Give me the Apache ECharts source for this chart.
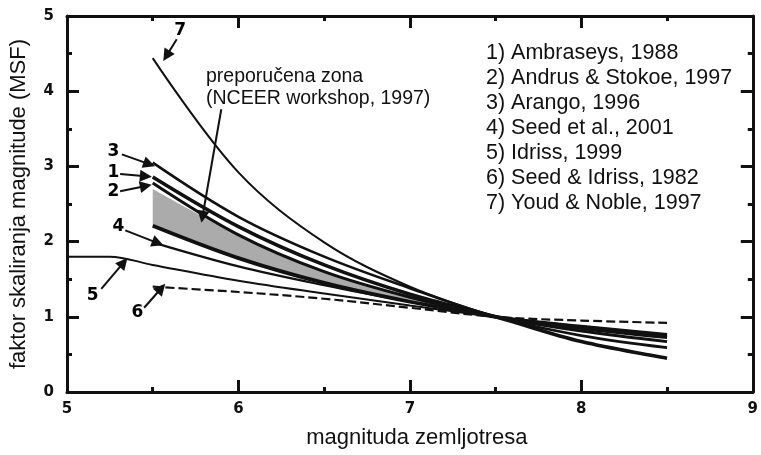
<!DOCTYPE html>
<html>
<head>
<meta charset="utf-8">
<script src="https://cdn.jsdelivr.net/npm/echarts@6/dist/echarts.min.js"></script>
<style>html,body{margin:0;padding:0;background:#fff}#c{width:761px;height:455px}</style>
</head>
<body>
<div id="c"></div>
<script>
// ---- data ----
const mag = [5.5, 6.0, 6.5, 7.0, 7.5, 8.0, 8.5];
const magIdriss = [5.0, 5.25, 5.5, 6.0, 6.5, 7.0, 7.5, 8.0, 8.5];
const magShort = [5.5, 6.0, 6.5, 7.0, 7.5];

const ambraseys    = [2.86, 2.20, 1.69, 1.30, 1.00, 0.67, 0.45];
const andrusStokoe = [2.78, 2.09, 1.60, 1.26, 1.00, 0.81, 0.67];
const arango       = [3.05, 2.33, 1.80, 1.38, 1.00, 0.75, 0.59];
const seedEtAl     = [1.99, 1.67, 1.42, 1.20, 1.00, 0.87, 0.76];
const idriss1999   = [1.80, 1.80, 1.69, 1.48, 1.31, 1.15, 1.00, 0.88, 0.77];
const seedIdriss   = [1.40, 1.33, 1.24, 1.12, 1.00, 0.95, 0.92];
const youdNoble    = [4.44, 2.92, 1.99, 1.40, 1.00];
const zoneLower    = [2.21, 1.78, 1.45, 1.20, 1.00, 0.85, 0.73];
const zoneUpper    = [2.70, 2.09, 1.60, 1.26, 1.00];

const seriesNames = [
  '1) Ambraseys, 1988',
  '2) Andrus & Stokoe, 1997',
  '3) Arango, 1996',
  '4) Seed et al., 2001',
  '5) Idriss, 1999',
  '6) Seed & Idriss, 1982',
  '7) Youd & Noble, 1997'
];
const xTicks = [5, 6, 7, 8, 9];
const yTicks = [0, 1, 2, 3, 4, 5];

// annotation numbers and arrows (data coordinates)
const annotNums   = ['7', '3', '1', '2', '4', '5', '6'];
const annotNumPos = [[5.66, 4.80], [5.27, 3.20], [5.27, 2.92], [5.27, 2.66], [5.30, 2.20], [5.15, 1.28], [5.41, 1.05]];
const arrowFrom   = [[5.64, 4.69], [5.32, 3.16], [5.31, 2.90], [5.31, 2.67], [5.34, 2.15], [5.20, 1.37], [5.45, 1.12], [5.90, 3.76]];
const arrowTo     = [[5.58, 4.47], [5.48, 3.03], [5.46, 2.87], [5.46, 2.74], [5.53, 1.98], [5.33, 1.72], [5.55, 1.38], [5.79, 2.33]];
const zoneText = 'preporučena zona\n(NCEER workshop, 1997)';

// ---- chart ----
const pairs = (xs, ys) => xs.map((x, i) => [x, ys[i]]);
const FONT = 'Liberation Sans, Arial, sans-serif';
const INK = '#111111';
const SMOOTH = 0.35;

function curve(name, xs, ys, width, dashed, z) {
  return {
    name: name, type: 'line', data: pairs(xs, ys), smooth: SMOOTH,
    showSymbol: false, symbol: 'none', z: z || 3,
    lineStyle: { color: INK, width: width, type: dashed ? [9, 4] : 'solid' },
    itemStyle: { color: INK }, silent: true
  };
}

// zone band: stacked on the y value (value placed first so it is the stacked dimension)
const zoneBaseData = magShort.map((x, i) => [zoneLower[i], x]);
const zoneBandData = magShort.map((x, i) => [zoneUpper[i] - zoneLower[i], x]);

const chart = echarts.init(document.getElementById('c'), null, { renderer: 'canvas' });

const axisCommon = {
  type: 'value', interval: 1,
  axisLine: { show: true, onZero: false, lineStyle: { color: INK, width: 3 } },
  axisTick: { show: true, inside: true, length: 12, lineStyle: { color: INK, width: 3 } },
  minorTick: { show: true, splitNumber: 2, length: 5, lineStyle: { color: INK, width: 3 } },
  splitLine: { show: false },
  axisLabel: { color: INK, fontFamily: 'DejaVu Sans', fontWeight: 'bold', fontSize: 15 }
};

const option = {
  animation: false,
  backgroundColor: '#fff',
  textStyle: { fontFamily: FONT },
  grid: { left: 66, right: 2, top: 16, bottom: 63 },
  legend: {
    data: seriesNames, orient: 'vertical', left: 481, top: 37,
    icon: 'none', itemWidth: 0, itemHeight: 14, itemGap: 3,
    selectedMode: false,
    textStyle: { fontFamily: FONT, fontSize: 21.5, color: INK, padding: [0, 0, 0, -5] }
  },
  xAxis: [
    Object.assign({}, axisCommon, {
      min: 5, max: 9, position: 'bottom',
      name: 'magnituda zemljotresa', nameLocation: 'middle', nameGap: 35,
      nameTextStyle: { fontFamily: FONT, fontSize: 22, color: INK, padding: [0, 0, 0, 14] },
      axisLabel: Object.assign({}, axisCommon.axisLabel, { margin: 10,
        formatter: v => xTicks.indexOf(v) >= 0 ? String(v) : '' })
    }),
    Object.assign({}, axisCommon, { min: 5, max: 9, position: 'top', axisLabel: { show: false } })
  ],
  yAxis: [
    Object.assign({}, axisCommon, {
      min: 0, max: 5, position: 'left',
      name: 'faktor skaliranja magnitude (MSF)', nameLocation: 'middle', nameGap: 37,
      nameTextStyle: { fontFamily: FONT, fontSize: 22, color: INK },
      axisLabel: Object.assign({}, axisCommon.axisLabel, { margin: 13,
        formatter: v => yTicks.indexOf(v) >= 0 ? String(v) : '' })
    }),
    Object.assign({}, axisCommon, { min: 0, max: 5, position: 'right', axisLabel: { show: false } })
  ],
  graphic: [{
    type: 'text', left: 206, top: 66, silent: true,
    style: { text: zoneText, font: '19.5px ' + FONT, fill: INK, lineHeight: 22 }
  }],
  series: [
    { name: 'zoneBase', type: 'line', stack: 'zone', data: zoneBaseData, encode: { x: 1, y: 0 },
      smooth: SMOOTH, symbol: 'none', silent: true, z: 1, lineStyle: { opacity: 0, width: 0 } },
    { name: 'zoneBand', type: 'line', stack: 'zone', data: zoneBandData, encode: { x: 1, y: 0 },
      smooth: SMOOTH, symbol: 'none', silent: true, z: 1, lineStyle: { opacity: 0, width: 0 },
      areaStyle: { color: '#ababab', opacity: 1 } },
    curve(seriesNames[0], mag, ambraseys, 3.6),
    curve(seriesNames[1], mag, andrusStokoe, 3),
    curve(seriesNames[2], mag, arango, 2.6),
    curve(seriesNames[3], mag, seedEtAl, 2.2),
    curve(seriesNames[4], magIdriss, idriss1999, 2),
    curve(seriesNames[5], mag, seedIdriss, 2.2, true),
    curve(seriesNames[6], magShort, youdNoble, 2),
    curve('zoneLower', mag, zoneLower, 3.8),
    {
      name: 'annot', type: 'scatter', symbolSize: 0, silent: true, z: 6,
      itemStyle: { opacity: 1 },
      data: annotNumPos.map((p, i) => ({ value: p, label: { formatter: annotNums[i] } })),
      label: { show: true, position: 'inside', fontFamily: 'DejaVu Sans', fontWeight: 900, fontSize: 17, color: '#000' },
      markLine: {
        silent: true, symbol: ['none', 'triangle'], symbolSize: [12, 12], precision: 3,
        label: { show: false },
        lineStyle: { color: INK, width: 2, type: 'solid' },
        data: arrowFrom.map((f, i) => [{ coord: f }, { coord: arrowTo[i] }])
      }
    }
  ]
};
chart.setOption(option);
</script>
</body>
</html>
